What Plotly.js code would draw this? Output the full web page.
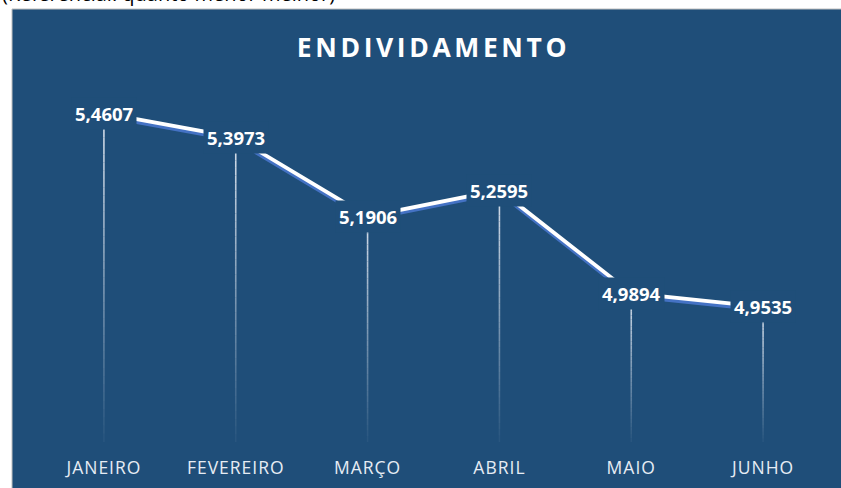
<!DOCTYPE html>
<html>
<head>
<meta charset="utf-8">
<script src="https://cdn.plot.ly/plotly-3.0.1.min.js"></script>
<style>
  html, body { margin: 0; padding: 0; background: #ffffff; }
  #chart { width: 841px; height: 488px; }
  .gtitle { letter-spacing: 3.6px; }
  .xtick text { letter-spacing: 1px; }
</style>
</head>
<body>
<div id="chart"></div>
<script>
// ---- data ----
const months = ["JANEIRO", "FEVEREIRO", "MARÇO", "ABRIL", "MAIO", "JUNHO"];
const values = [5.4607, 5.3973, 5.1906, 5.2595, 4.9894, 4.9535];
const chartTitle = "ENDIVIDAMENTO";
const headerNote = "(Referencial: quanto menor melhor)";

// ---- styles ----
const panel = "#1F4E79";
const yMin = 4.6, yMax = 5.6;
const margin = { l: 38, r: 12, t: 60, b: 46 };
const W = 841, H = 488;
const plotH = H - margin.t - margin.b;
const plotW = W - margin.l - margin.r;
const pxPerUnit = plotH / (yMax - yMin);
const idx = months.map((m, i) => i);

// shadow line shifted a couple of pixels down
const shadowY = values.map(v => v - 2.6 / pxPerUnit);

const traces = [
  { x: idx, y: shadowY, mode: "lines", line: { color: "#4472C4", width: 4.2 }, hoverinfo: "skip", showlegend: false },
  { x: idx, y: values, mode: "lines", line: { color: "#ffffff", width: 3.8 }, hoverinfo: "skip", showlegend: false }
];

// panel background (paper coords)
const shapes = [{
  type: "rect", xref: "paper", yref: "paper", layer: "below",
  x0: (12 - margin.l) / plotW, x1: (W + 2 - margin.l) / plotW,
  y0: -(margin.b + 2) / plotH, y1: 1 + (margin.t - 9) / plotH,
  fillcolor: panel, line: { color: "#bfbfbf", width: 1 }
}];

// gradient drop lines
const N = 40;
values.forEach((v, i) => {
  for (let k = 0; k < N; k++) {
    const a = v - (v - yMin) * k / N;
    const b = v - (v - yMin) * (k + 1) / N;
    const op = 0.9 - 0.85 * (k / (N - 1));
    shapes.push({
      type: "line", xref: "x", yref: "y", layer: "below",
      x0: i, x1: i, y0: a, y1: b,
      line: { color: "rgba(235,240,248," + op.toFixed(3) + ")", width: 1.6 }
    });
  }
});

const annotations = values.map((v, i) => ({
  x: i, y: v, xref: "x", yref: "y",
  text: v.toFixed(4).replace(".", ","),
  showarrow: false, xanchor: "center", yanchor: "middle",
  bgcolor: panel, borderpad: 3,
  font: { family: "Open Sans", size: 18.5, color: "#ffffff", weight: 700 }
}));

annotations.push({
  xref: "paper", yref: "paper",
  x: (0 - margin.l) / plotW, xanchor: "left",
  y: 1 + (margin.t + 7) / plotH, yanchor: "middle",
  text: headerNote, showarrow: false,
  font: { family: "Open Sans", size: 20, color: "#000000" }
});

const layout = {
  width: W, height: H,
  margin: margin,
  paper_bgcolor: "#ffffff",
  plot_bgcolor: "rgba(0,0,0,0)",
  title: {
    text: chartTitle, x: 0.5, xref: "paper", xanchor: "center",
    y: 1 - 47.5 / H, yanchor: "middle",
    font: { family: "Open Sans", size: 26.5, color: "#ffffff", weight: 700 }
  },
  xaxis: {
    range: [-0.5, months.length - 0.5],
    tickmode: "array", tickvals: idx, ticktext: months,
    showgrid: false, zeroline: false, showline: false,
    ticks: "outside", ticklen: 10, tickcolor: "rgba(0,0,0,0)",
    tickfont: { family: "Open Sans", size: 17.5, color: "#e6ecf4" },
    fixedrange: true
  },
  yaxis: {
    range: [yMin, yMax], visible: false, showgrid: false, zeroline: false, fixedrange: true
  },
  shapes: shapes,
  annotations: annotations,
  showlegend: false
};

Plotly.newPlot("chart", traces, layout, { displayModeBar: false, staticPlot: true });
</script>
</body>
</html>
